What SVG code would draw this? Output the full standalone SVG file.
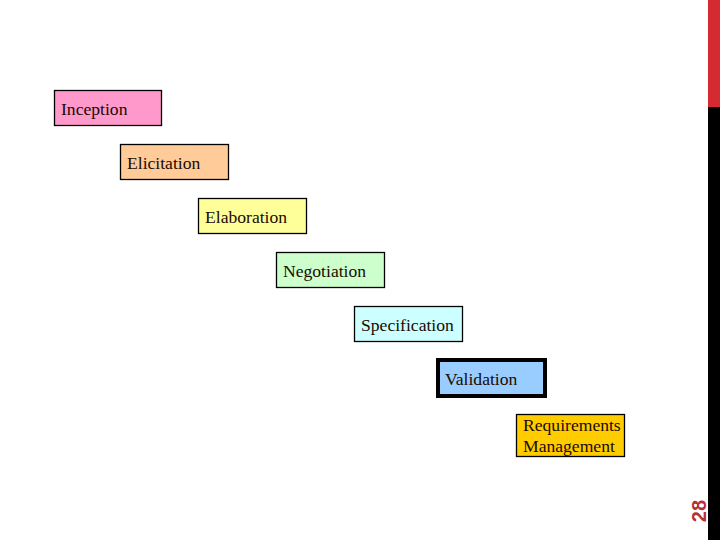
<svg xmlns="http://www.w3.org/2000/svg" width="720" height="540" viewBox="0 0 720 540">
<style>
.box{stroke:#000;stroke-width:1.3}
.t{font-family:"Liberation Serif","Times New Roman",serif;font-size:17.6px;fill:#1a0a00}
</style>
<rect width="720" height="540" fill="#fff"/>
<rect x="708" y="0" width="12" height="107" fill="#d52b30"/>
<rect x="708" y="107" width="12" height="433" fill="#000"/>
<text transform="translate(706,511) rotate(-90)" text-anchor="middle" font-family="Liberation Sans,Arial,sans-serif" font-weight="bold" font-size="20" fill="#b5303a">28</text>
<g id="connectors"></g>
<g id="inception"><rect class="box" x="54.5" y="90.5" width="107" height="35" fill="#ff99cc"/><text class="t" x="61" y="115">Inception</text></g>
<g id="elicitation"><rect class="box" x="120.5" y="144.5" width="108" height="35" fill="#ffcc99"/><text class="t" x="127" y="169">Elicitation</text></g>
<g id="elaboration"><rect class="box" x="198.5" y="198.5" width="108" height="35" fill="#ffff99"/><text class="t" x="205" y="223">Elaboration</text></g>
<g id="negotiation"><rect class="box" x="276.5" y="252.5" width="108" height="35" fill="#ccffcc"/><text class="t" x="283" y="277">Negotiation</text></g>
<g id="specification"><rect class="box" x="354.5" y="306.5" width="108" height="35" fill="#ccffff"/><text class="t" x="361" y="331">Specification</text></g>
<g id="validation"><rect x="438" y="360" width="107" height="36" fill="#99ccff" stroke="#000" stroke-width="4"/><text class="t" x="445" y="385">Validation</text></g>
<g id="reqmgmt"><rect class="box" x="516.5" y="414.5" width="108" height="42" fill="#ffcc00"/><text class="t" x="523" y="431">Requirements</text><text class="t" x="523" y="452">Management</text></g>
</svg>
